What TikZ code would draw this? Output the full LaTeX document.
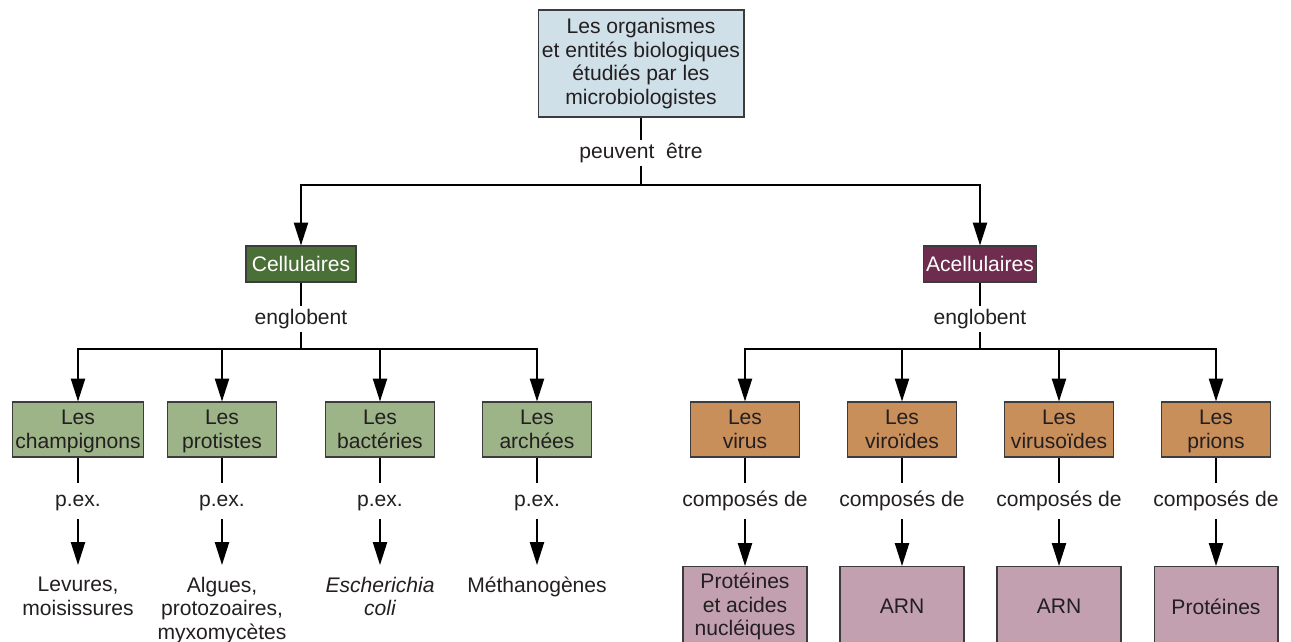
\documentclass[tikz,border=0pt]{standalone}
\usepackage{fontspec}
\setmainfont{Liberation Sans}
\usetikzlibrary{arrows.meta,positioning}
\definecolor{inkgray}{RGB}{35,31,32}
\definecolor{boxline}{RGB}{60,60,60}
\definecolor{rootblue}{RGB}{207,224,232}
\definecolor{cellgreen}{RGB}{74,112,56}
\definecolor{acellwine}{RGB}{110,45,78}
\definecolor{grpgreen}{RGB}{157,180,136}
\definecolor{grporange}{RGB}{201,143,90}
\definecolor{comppink}{RGB}{194,160,176}

\begin{document}
\begin{tikzpicture}[x=0.02cm,y=-0.02cm,
  font=\fontsize{12}{13.6}\selectfont,
  every node/.style={text=inkgray},
  root/.style={draw=boxline,line width=0.6pt,fill=rootblue,align=center,minimum width=4.12cm,minimum height=2.14cm,inner sep=1pt},
  kind/.style={draw=boxline,line width=0.6pt,text=white,minimum width=2.2cm,minimum height=0.72cm,inner sep=1pt},
  grp/.style={draw=boxline,line width=0.6pt,align=center,text depth=0pt,minimum width=2.18cm,minimum height=1.1cm,inner xsep=1.5pt,inner ysep=1pt},
  comp/.style={draw=boxline,line width=0.6pt,fill=comppink,align=center,minimum width=2.48cm,minimum height=1.6cm,anchor=north},
  link/.style={text height=9pt,text depth=3pt,inner ysep=1pt},
  tag/.style={link,inner ysep=4pt},
  ex/.style={anchor=north,align=center,inner xsep=5pt,inner ysep=6.5pt},
  ln/.style={line width=1.1pt},
  arr/.style={line width=1.1pt,-{Triangle[length=13pt,width=8pt]}}]
  \useasboundingbox (0,0) rectangle (1291,642);
  \clip (0,0) rectangle (1291,642);

  \node[root] (org) at (641,63.5) {Les organismes\\et entités biologiques\\étudiés par les\\microbiologistes};
  \node[link] (peut) at (641,153) {peuvent \ être};
  \coordinate (split) at (641,185);

  \node[kind,fill=cellgreen] (cell) at (301,264) {Cellulaires};
  \node[kind,fill=acellwine,minimum width=2.26cm] (acell) at (980,264) {Acellulaires};
  \node[link] (englC) at (301,319) {englobent};
  \node[link] (englA) at (980,319) {englobent};
  \coordinate (splitC) at (301,349);
  \coordinate (splitA) at (980,349);

  \node[grp,fill=grpgreen] (champ) at (78,429.5) {Les\\champignons};
  \node[grp,fill=grpgreen] (prot) at (222,429.5) {Les\\protistes};
  \node[grp,fill=grpgreen] (bact) at (380,429.5) {Les\\bactéries};
  \node[grp,fill=grpgreen] (arch) at (537,429.5) {Les\\archées};
  \node[grp,fill=grporange] (virus) at (745,429.5) {Les\\virus};
  \node[grp,fill=grporange] (viro) at (902,429.5) {Les\\viroïdes};
  \node[grp,fill=grporange] (virus2) at (1059,429.5) {Les\\virusoïdes};
  \node[grp,fill=grporange] (prion) at (1216,429.5) {Les\\prions};

  \node[tag] (pex1) at (78,501) {p.ex.};
  \node[tag] (pex2) at (222,501) {p.ex.};
  \node[tag] (pex3) at (380,501) {p.ex.};
  \node[tag] (pex4) at (537,501) {p.ex.};
  \node[tag] (cmp1) at (745,501) {composés de};
  \node[tag] (cmp2) at (902,501) {composés de};
  \node[tag] (cmp3) at (1059,501) {composés de};
  \node[tag] (cmp4) at (1216,501) {composés de};

  \node[ex] (ex1) at (78,565) {Levures,\\moisissures};
  \node[ex] (ex2) at (222,565) {Algues,\\protozoaires,\\myxomycètes};
  \node[ex] (ex3) at (380,565) {\itshape Escherichia\\\itshape coli};
  \node[ex] (ex4) at (537,565) {Méthanogènes};
  \node[comp] (pna) at (745,566) {Protéines\\et acides\\nucléiques};
  \node[comp] (arn1) at (902,566) {ARN};
  \node[comp] (arn2) at (1059,566) {ARN};
  \node[comp] (prt) at (1216,566) {Protéines};

  \draw[ln] (org) -- (peut);
  \draw[ln] (peut) -- (split);
  \draw[arr] (split) -| (cell);
  \draw[arr] (split) -| (acell);

  \draw[ln] (cell) -- (englC);
  \draw[ln] (englC) -- (splitC);
  \draw[ln] (acell) -- (englA);
  \draw[ln] (englA) -- (splitA);
  \foreach \g in {champ,prot,bact,arch}
    \draw[arr] (splitC) -| (\g);
  \foreach \g in {virus,viro,virus2,prion}
    \draw[arr] (splitA) -| (\g);

  \foreach \g/\t/\e in {champ/pex1/ex1,prot/pex2/ex2,bact/pex3/ex3,arch/pex4/ex4,
      virus/cmp1/pna,viro/cmp2/arn1,virus2/cmp3/arn2,prion/cmp4/prt}{
    \draw[ln] (\g) -- (\t);
    \draw[arr] (\t) -- (\e);
  }
\end{tikzpicture}
\end{document}
